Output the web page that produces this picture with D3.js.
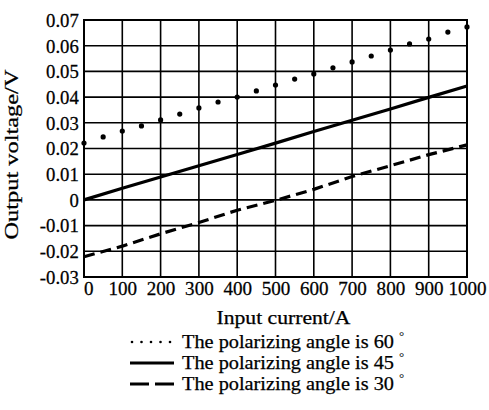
<!DOCTYPE html>
<html>
<head>
<meta charset="utf-8">
<script src="https://cdn.jsdelivr.net/npm/d3@7"></script>
<style>
  body { margin: 0; background: #fff; }
</style>
</head>
<body>
<div id="chart"></div>
<script>
// values
const current60 = [0, 50, 100, 150, 200, 250, 300, 350, 400, 450, 500, 550, 600, 650, 700, 750, 800, 850, 900, 950, 1000]
const voltage60 = [0.0221, 0.0245, 0.0268, 0.0288, 0.0311, 0.0334, 0.0358, 0.0381, 0.0400, 0.0424, 0.0447,
  0.0470, 0.0490, 0.0514, 0.0537, 0.0560, 0.0583, 0.0607, 0.0626, 0.0653, 0.0673]
const current = [0, 100, 200, 300, 400, 500, 600, 700, 800, 900, 1000]
const voltage45 = [0, 0.0045, 0.0089, 0.0133, 0.0177, 0.0221, 0.0266, 0.0310, 0.0354, 0.0399, 0.0443]
const voltage30 = [-0.0221, -0.0180, -0.0132, -0.0088, -0.0040, -0.0002, 0.0041, 0.0091, 0.0133, 0.0176, 0.0214]
const xTicks = [0, 100, 200, 300, 400, 500, 600, 700, 800, 900, 1000]
const yTicks = [-0.03, -0.02, -0.01, 0, 0.01, 0.02, 0.03, 0.04, 0.05, 0.06, 0.07]
const legendLabels = ['The polarizing angle is 60', 'The polarizing angle is 45', 'The polarizing angle is 30']

const FONT = '"Liberation Serif"'
const width = 489
const height = 410
const margin = { top: 20, right: 22, bottom: 133, left: 84 }
const innerW = width - margin.left - margin.right
const innerH = height - margin.top - margin.bottom

const svg = d3.select('#chart')
  .append('svg')
  .attr('width', width)
  .attr('height', height)

const g = svg.append('g')
  .attr('transform', `translate(${margin.left},${margin.top})`)

const x = d3.scaleLinear().domain([0, 1000]).range([0, innerW])
const y = d3.scaleLinear().domain([-0.03, 0.07]).range([innerH, 0])

// grid
g.append('g')
  .selectAll('line')
  .data(xTicks)
  .enter()
  .append('line')
  .attr('x1', d => x(d)).attr('x2', d => x(d))
  .attr('y1', 0).attr('y2', innerH)
  .attr('stroke', '#000')
  .attr('stroke-width', 1.6)
g.append('g')
  .selectAll('line')
  .data(yTicks)
  .enter()
  .append('line')
  .attr('x1', 0).attr('x2', innerW)
  .attr('y1', d => y(d)).attr('y2', d => y(d))
  .attr('stroke', '#000')
  .attr('stroke-width', 1.6)
g.append('rect')
  .attr('width', innerW)
  .attr('height', innerH)
  .attr('fill', 'none')
  .attr('stroke', '#000')
  .attr('stroke-width', 2)

// axes (labels only, the grid draws the lines)
const xAxis = d3.axisBottom(x).tickValues(xTicks).tickSize(0).tickPadding(5).tickFormat(d3.format('d'))
const yAxis = d3.axisLeft(y).tickValues(yTicks).tickSize(0).tickPadding(5)
  .tickFormat(d => d === 0 ? '0' : d3.format('.2f')(d).replace('−', '-'))

const xAxisG = g.append('g')
  .attr('transform', `translate(0,${innerH})`)
  .call(xAxis)
const yAxisG = g.append('g').call(yAxis)
for (const ax of [xAxisG, yAxisG]) {
  ax.attr('font-family', null).attr('font-size', null)
  ax.select('.domain').remove()
  ax.selectAll('text')
    .style('font-family', FONT)
    .style('font-size', '18px')
    .attr('fill', '#000')
    .attr('stroke', '#000')
    .attr('stroke-width', 0.25)
}
xAxisG.selectAll('text').attr('transform', 'scale(1.06,1)').attr('dx', d => d === 0 ? 4 : 0)
yAxisG.selectAll('text').attr('transform', 'scale(1.04,1)').attr('dy', '0.35em')

// series
const pts60 = current60.map((c, i) => [c, voltage60[i]])
const pts45 = current.map((c, i) => [c, voltage45[i]])
const pts30 = current.map((c, i) => [c, voltage30[i]])
const line = d3.line().x(d => x(d[0])).y(d => y(d[1]))

g.append('g')
  .selectAll('circle')
  .data(pts60)
  .enter()
  .append('circle')
  .attr('cx', d => x(d[0]))
  .attr('cy', d => y(d[1]))
  .attr('r', 2.6)
  .attr('fill', '#000')

g.append('path')
  .datum(pts45)
  .attr('d', line)
  .attr('fill', 'none')
  .attr('stroke', '#000')
  .attr('stroke-width', 3.2)

g.append('path')
  .datum(pts30)
  .attr('d', line)
  .attr('fill', 'none')
  .attr('stroke', '#000')
  .attr('stroke-width', 3.2)
  .attr('stroke-dasharray', '11,6')

// axis titles
svg.append('text')
  .attr('transform', `translate(18,${margin.top + innerH / 2 + 6}) rotate(-90)`)
  .attr('text-anchor', 'middle')
  .style('font-family', FONT)
  .style('font-size', '19px')
  .attr('stroke', '#000')
  .attr('stroke-width', 0.25)
  .attr('textLength', 170)
  .attr('lengthAdjust', 'spacingAndGlyphs')
  .text('Output voltage/V')

svg.append('text')
  .attr('x', margin.left + innerW / 2 + 8)
  .attr('y', 324)
  .attr('text-anchor', 'middle')
  .style('font-family', FONT)
  .style('font-size', '18px')
  .attr('stroke', '#000')
  .attr('stroke-width', 0.25)
  .attr('textLength', 134)
  .attr('lengthAdjust', 'spacingAndGlyphs')
  .text('Input current/A')

// legend
const legend = svg.append('g').attr('transform', 'translate(130,342)')
const rowH = 21
const rows = legend.selectAll('g')
  .data(legendLabels)
  .enter()
  .append('g')
  .attr('transform', (d, i) => `translate(0,${i * rowH})`)

rows.each(function (d, i) {
  const r = d3.select(this)
  if (i === 0) {
    r.selectAll('circle')
      .data([0, 1, 2, 3, 4])
      .enter()
      .append('circle')
      .attr('cx', k => 2 + k * 9.5)
      .attr('cy', 0)
      .attr('r', 1.3)
      .attr('fill', '#000')
  } else {
    r.append('line')
      .attr('x1', 0).attr('x2', 44)
      .attr('y1', 0).attr('y2', 0)
      .attr('stroke', '#000')
      .attr('stroke-width', 2.8)
      .attr('stroke-dasharray', i === 2 ? '19,6' : null)
  }
  r.append('text')
    .attr('x', 52)
    .attr('y', 6)
    .style('font-family', FONT)
    .style('font-size', '18px')
    .attr('stroke', '#000')
    .attr('stroke-width', 0.25)
    .attr('textLength', 212)
    .attr('lengthAdjust', 'spacingAndGlyphs')
    .text(d)
  r.append('text')
    .attr('x', 269)
    .attr('y', -2)
    .style('font-family', FONT)
    .style('font-size', '13px')
    .text('°')
})
</script>
</body>
</html>
